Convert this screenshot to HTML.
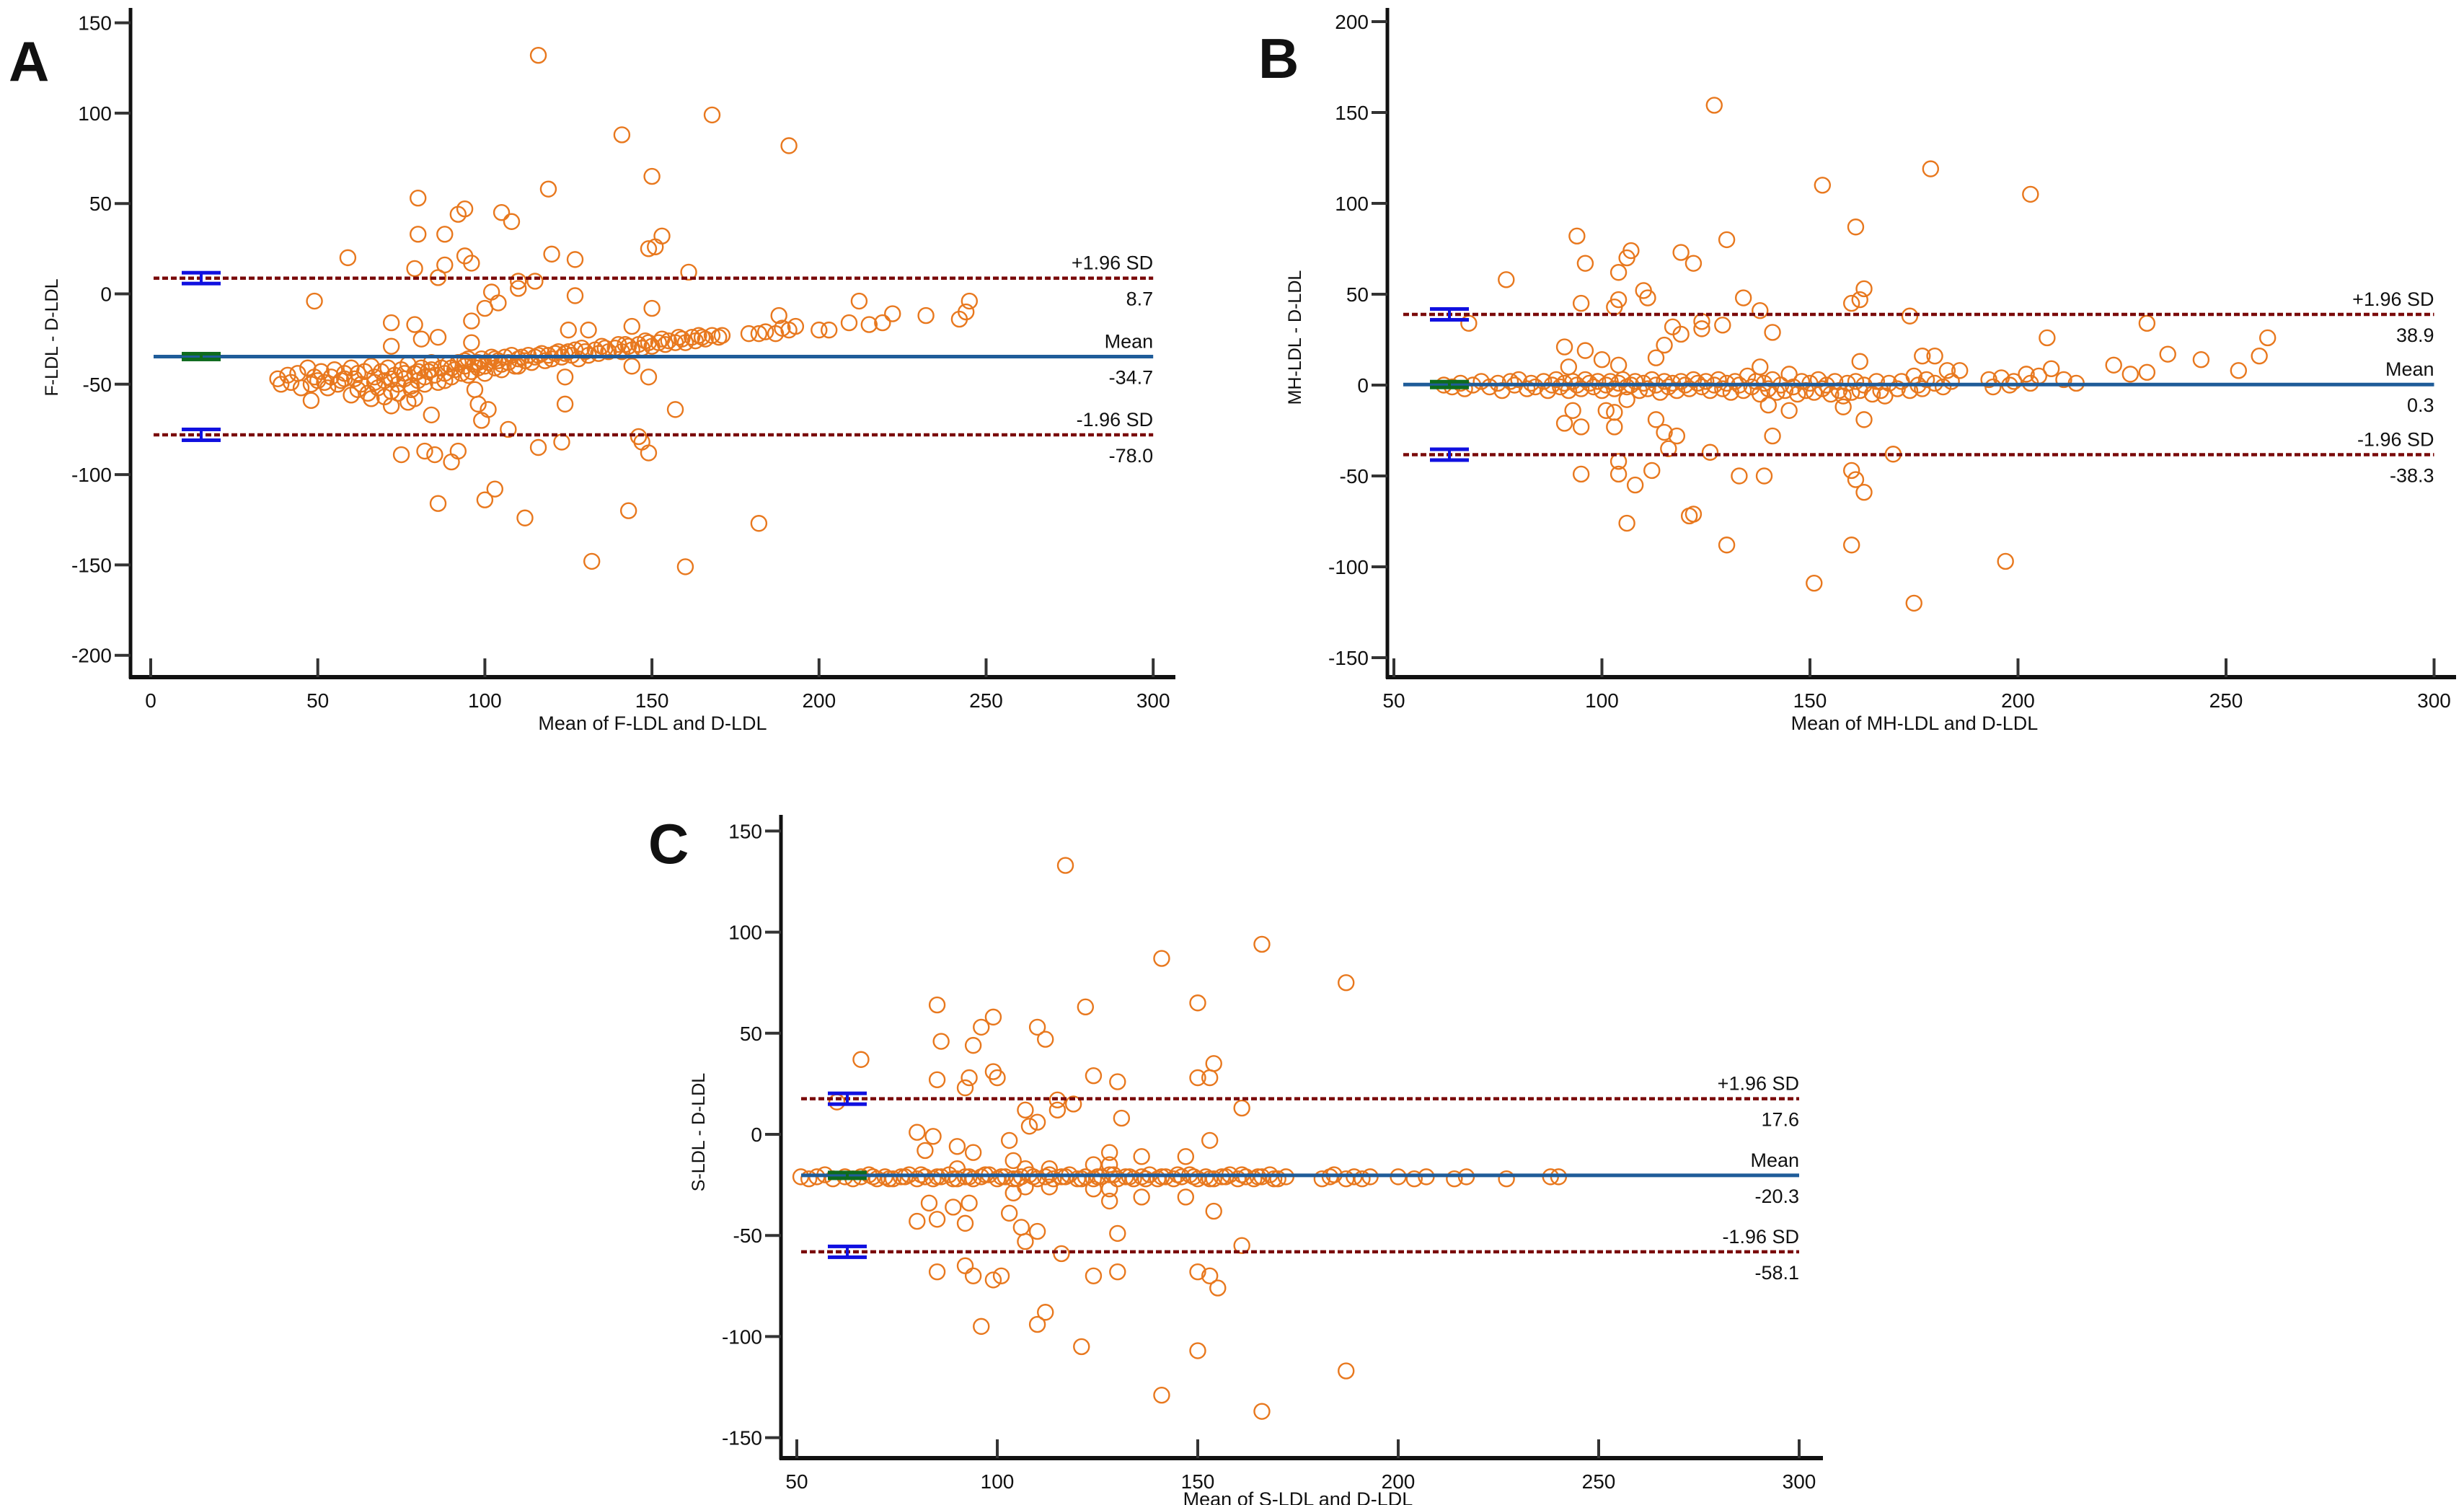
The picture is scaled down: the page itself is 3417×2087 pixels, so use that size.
<!DOCTYPE html>
<html><head><meta charset="utf-8"><style>
html,body{margin:0;padding:0;background:#fff}
svg{display:block}
text{font-family:"Liberation Sans Narrow","Liberation Sans",sans-serif;fill:#111}
</style></head><body>
<svg id="chart" width="3417" height="2087" viewBox="0 0 3417 2087" xmlns="http://www.w3.org/2000/svg"></svg>
<script>
// ---------- DATA ----------
const xTicksA = [0,50,100,150,200,250,300];
const yTicksA = [150,100,50,0,-50,-100,-150,-200];
const xTicksB = [50,100,150,200,250,300];
const yTicksB = [200,150,100,50,0,-50,-100,-150];
const xTicksC = [50,100,150,200,250,300];
const yTicksC = [150,100,50,0,-50,-100,-150];
const limitsA = [8.7,-34.7,-78.0];
const limitsB = [38.9,0.3,-38.3];
const limitsC = [17.6,-20.3,-58.1];
const pointsA = [[116,132],[168,99],[141,88],[191,82],[150,65],[119,58],[80,53],[94,47],[92,44],[105,45],[108,40],[80,33],[88,33],[153,32],[149,25],[151,26],[59,20],[120,22],[127,19],[94,21],[96,17],[88,16],[79,14],[86,9],[161,12],[110,7],[115,7],[110,3],[102,1],[104,-5],[100,-8],[49,-4],[127,-1],[150,-8],[72,-16],[79,-17],[96,-15],[131,-20],[125,-20],[144,-18],[72,-29],[81,-25],[86,-24],[96,-27],[124,-46],[144,-40],[149,-46],[48,-59],[97,-53],[98,-61],[101,-64],[84,-67],[72,-62],[77,-60],[79,-58],[99,-70],[107,-75],[157,-64],[75,-89],[82,-87],[85,-89],[90,-93],[92,-87],[116,-85],[123,-82],[146,-79],[147,-82],[149,-88],[86,-116],[100,-114],[103,-108],[112,-124],[143,-120],[182,-127],[132,-148],[160,-151],[124,-61],
[179,-22],[182,-22],[184,-21],[187,-22],[189,-19],[191,-20],[193,-18],[188,-12],[200,-20],[203,-20],[209,-16],[212,-4],[215,-17],[219,-16],[222,-11],[232,-12],[242,-14],[244,-10],[245,-4],
[38,-47],[39,-50],[41,-45],[42,-49],[44,-44],[45,-52],[47,-41],[49,-46],[51,-43],[52,-49],[54,-46],[55,-42],[57,-48],[58,-44],[60,-41],[61,-47],[63,-50],[64,-43],[65,-55],[66,-40],[67,-46],[68,-52],[69,-43],[70,-48],[71,-41],[72,-54],[73,-45],[74,-50],[75,-42],[76,-47],[77,-39],[78,-51],[79,-44],[80,-48],[81,-41],[82,-46],[83,-43],[84,-38],[85,-45],[86,-49],[87,-41],[88,-44],[89,-39],[90,-46],[91,-42],[92,-38],[93,-44],[94,-40],[95,-36],[96,-43],[97,-39],[98,-41],[99,-36],[100,-40],[101,-38],[102,-35],[103,-41],[104,-37],[105,-39],[106,-35],[107,-38],[108,-34],[109,-40],[110,-36],[112,-37],[113,-34],[114,-38],[115,-35],[117,-33],[118,-37],[119,-34],[120,-36],[122,-32],[123,-35],[124,-33],[126,-34],[127,-31],[128,-36],[130,-32],[131,-34],[133,-31],[134,-33],[136,-30],[137,-32],[139,-30],[140,-28],[141,-32],[143,-29],[144,-31],[146,-28],[147,-30],[149,-27],[150,-29],[152,-27],[154,-28],[155,-26],[157,-27],[159,-25],[160,-27],[162,-24],[163,-26],[165,-24],[166,-25],[168,-23],[170,-24],[171,-23],
[60,-56],[62,-53],[66,-58],[70,-57],[74,-55],[56,-50],[50,-48],[53,-52],[48,-50],[78,-53],[82,-50],[88,-48],[95,-45],[100,-44],[105,-42],[110,-40],
[58,-47],[62,-44],[67,-49],[72,-47],[76,-44],[80,-43],[84,-42],[90,-41],[94,-37],[98,-38],[103,-36],[111,-35],[116,-34],[121,-33],[125,-32],[129,-30],[135,-29],[142,-28],[148,-26],[153,-25],[158,-24],[164,-23]];
const pointsB = [[127,154],[179,119],[153,110],[203,105],[161,87],[94,82],[130,80],[107,74],[119,73],[106,70],[122,67],[96,67],[104,62],[77,58],[163,53],[110,52],[111,48],[134,48],[162,47],[104,47],[95,45],[160,45],[103,43],[138,41],[174,38],[68,34],[124,35],[129,33],[117,32],[124,31],[119,28],[141,29],[231,34],[207,26],[260,26],[115,22],[91,21],[96,19],[236,17],[258,16],[162,13],[113,15],[177,16],[180,16],[244,14],[100,14],[104,11],[92,10],[138,10],[223,11],[208,9],[227,6],[231,7],[253,8],[186,8],[183,8],[93,-14],[101,-14],[103,-15],[113,-19],[106,-8],[158,-12],[140,-11],[145,-14],[163,-19],[91,-21],[95,-23],[103,-23],[115,-26],[118,-28],[141,-28],[116,-35],[126,-37],[170,-38],[104,-42],[95,-49],[104,-49],[112,-47],[108,-55],[133,-50],[139,-50],[160,-47],[161,-52],[163,-59],[122,-71],[121,-72],[106,-76],[130,-88],[160,-88],[197,-97],[151,-109],[175,-120],
[62,0],[64,-1],[66,1],[67,-2],[69,0],[71,2],[73,-1],[75,1],[76,-3],[78,2],[79,0],[80,3],[82,-2],[83,1],[84,-1],[86,2],[87,-3],[88,0],[89,3],[90,-1],[91,1],[92,-3],[93,2],[94,0],[95,-2],[96,3],[97,1],[98,-1],[99,2],[100,-3],[101,0],[102,2],[103,-2],[104,1],[105,3],[106,-1],[107,0],[108,2],[109,-3],[110,1],[111,-2],[112,3],[113,0],[114,-4],[115,2],[116,-1],[117,1],[118,-3],[119,2],[120,0],[121,-2],[122,3],[123,1],[124,-1],[125,2],[126,-3],[127,0],[128,3],[129,-2],[130,1],[131,-4],[132,2],[133,0],[134,-3],[135,5],[136,-1],[137,2],[138,-5],[139,1],[140,-2],[141,3],[142,-4],[143,0],[144,-3],[145,6],[146,-1],[147,-5],[148,2],[149,-3],[150,1],[151,-4],[152,3],[153,-2],[154,0],[155,-5],[156,2],[157,-3],[158,-6],[159,1],[160,-4],[161,2],[162,-3],[163,0],[165,-5],[166,2],[167,-3],[168,-6],[169,1],[171,-2],[172,2],[174,-3],[175,5],[176,0],[177,-2],[178,3],[180,1],[182,-1],[184,2],[193,3],[194,-1],[196,4],[198,0],[199,2],[202,6],[203,1],[205,5],[211,3],[214,1]];
const pointsC = [[117,133],[166,94],[141,87],[187,75],[85,64],[150,65],[122,63],[99,58],[110,53],[96,53],[86,46],[94,44],[112,47],[66,37],[154,35],[99,31],[100,28],[85,27],[93,28],[92,23],[124,29],[130,26],[150,28],[153,28],[115,17],[119,15],[60,16],[115,12],[107,12],[161,13],[108,4],[110,6],[131,8],[80,1],[84,-1],[90,-6],[103,-3],[153,-3],[82,-8],[94,-9],[128,-9],[136,-11],[147,-11],[104,-13],[90,-17],[107,-17],[113,-17],[124,-15],[128,-15],[104,-29],[107,-26],[113,-26],[124,-27],[128,-27],[128,-33],[136,-31],[147,-31],[83,-34],[89,-36],[93,-34],[103,-39],[80,-43],[85,-42],[92,-44],[154,-38],[106,-46],[110,-48],[130,-49],[107,-53],[116,-59],[161,-55],[92,-65],[85,-68],[94,-70],[99,-72],[101,-70],[124,-70],[130,-68],[150,-68],[153,-70],[155,-76],[112,-88],[96,-95],[110,-94],[121,-105],[150,-107],[187,-117],[141,-129],[166,-137],
[51,-21],[53,-22],[55,-21],[57,-20],[59,-22],[62,-21],[64,-22],[66,-21],[68,-20],[70,-22],[72,-21],[74,-22],[76,-21],[78,-20],[80,-22],[82,-21],[84,-22],[86,-21],[88,-20],[90,-22],[92,-21],[94,-22],[96,-21],[98,-20],[100,-22],[102,-21],[104,-22],[106,-21],[108,-20],[110,-22],[112,-21],[114,-22],[116,-21],[118,-20],[120,-22],[122,-21],[124,-22],[126,-21],[128,-20],[130,-22],[132,-21],[134,-22],[136,-21],[138,-20],[140,-22],[142,-21],[144,-22],[146,-21],[148,-20],[150,-22],[152,-21],[154,-22],[156,-21],[158,-20],[160,-22],[162,-21],[164,-22],[166,-21],[168,-20],[170,-22],[172,-21],[181,-22],[183,-21],[184,-20],[187,-22],[189,-21],[191,-22],[193,-21],[200,-21],[204,-22],[207,-21],[214,-22],[217,-21],[227,-22],[238,-21],[240,-21],
[69,-21],[73,-22],[77,-21],[81,-20],[85,-21],[89,-22],[93,-21],[97,-20],[101,-21],[105,-22],[109,-21],[113,-20],[117,-21],[121,-22],[125,-21],[129,-20],[133,-21],[137,-22],[141,-21],[145,-20],[149,-21],[153,-22],[157,-21],[161,-20],[165,-21],[169,-22]];

// ---------- RENDER ----------
const NS = "http://www.w3.org/2000/svg";
const svg = document.getElementById('chart');
function mk(tag, attrs, parent){const e=document.createElementNS(NS,tag);for(const k in attrs)e.setAttribute(k,attrs[k]);(parent||svg).appendChild(e);return e;}

const panels = [
 {id:'a', letter:'A', lx:12, ly:112, ax:181, axTop:11, axBot:939, axRight:1630, x0v:0, x0:209, xs:231.7/50, y0:407.5, ys:125.3/50,
  xt:xTicksA, yt:yTicksA, lim:limitsA, pts:pointsA, lineX1:213, eb:[252,306], ytitle:'F-LDL - D-LDL', xtitle:'Mean of F-LDL and D-LDL', ytx:80, yty:468, xtx:905, xty:1012},
 {id:'b', letter:'B', lx:1745, ly:108, ax:1924, axTop:11, axBot:939, axRight:3406, x0v:50, x0:1933, xs:288.5/50, y0:534, ys:126/50,
  xt:xTicksB, yt:yTicksB, lim:limitsB, pts:pointsB, lineX1:1946, eb:[1983,2037], ytitle:'MH-LDL - D-LDL', xtitle:'Mean of MH-LDL and D-LDL', ytx:1804, yty:468, xtx:2655, xty:1012},
 {id:'c', letter:'C', lx:899, ly:1197, ax:1083, axTop:1130, axBot:2022, axRight:2528, x0v:50, x0:1105, xs:278/50, y0:1573, ys:140.2/50,
  xt:xTicksC, yt:yTicksC, lim:limitsC, pts:pointsC, lineX1:1111, eb:[1148,1202], ytitle:'S-LDL - D-LDL', xtitle:'Mean of S-LDL and D-LDL', ytx:977, yty:1570, xtx:1800, xty:2088}
];

panels.forEach(p=>{
  const X = v => p.x0 + (v - p.x0v)*p.xs;
  const Y = v => p.y0 - v*p.ys;
  const g = mk('g',{});
  
  
  const xEnd = X(300);

  const L = mk('text',{x:p.lx,y:p.ly,'font-size':78,'font-weight':'bold','font-family':'"Liberation Sans",sans-serif'},g);
  L.textContent=p.letter;
  
  

  const ya = mk('line',{x1:p.ax,y1:p.axTop,x2:p.ax,y2:p.axBot+2,stroke:'#111','stroke-width':5},g);
  
  
  const xa = mk('line',{x1:p.ax-2,y1:p.axBot,x2:p.axRight,y2:p.axBot,stroke:'#111','stroke-width':6},g);
  
  

  p.yt.forEach(v=>{
    const t = mk('line',{x1:p.ax-22,y1:Y(v),x2:p.ax,y2:Y(v),stroke:'#333','stroke-width':4},g);
    
    
    const l = mk('text',{x:p.ax-26,y:Y(v)+10,'font-size':28,'text-anchor':'end'},g);
    l.textContent=v;
    
    
  });
  p.xt.forEach(v=>{
    const t = mk('line',{x1:X(v),y1:p.axBot-26,x2:X(v),y2:p.axBot,stroke:'#333','stroke-width':4},g);
    
    
    const l = mk('text',{x:X(v),y:p.axBot+42,'font-size':28,'text-anchor':'middle'},g);
    l.textContent=v;
    
    
  });
  const yt = mk('text',{x:p.ytx,y:p.yty,'font-size':25,'text-anchor':'middle',transform:`rotate(-90 ${p.ytx} ${p.yty})`,'font-family':'"Liberation Sans",sans-serif'},g);
  yt.textContent=p.ytitle;
  
  
  const xt = mk('text',{x:p.xtx,y:p.xty,'font-size':27,'text-anchor':'middle'},g);
  xt.textContent=p.xtitle;
  
  

  p.pts.forEach(d=>{
    const c = mk('circle',{cx:X(d[0]),cy:Y(d[1]),r:10.5,fill:'none',stroke:'#E8781E','stroke-width':2.4},g);
    
    
  });

  const names=['upper-limit','mean','lower-limit'];
  const tops=['+1.96 SD','Mean','-1.96 SD'];
  p.lim.forEach((v,i)=>{
    const yy=Y(v);
    const isMean = i===1;
    const ln = mk('line',{x1:p.lineX1,y1:yy,x2:xEnd,y2:yy,stroke:isMean?'#1F5C99':'#7A0A0A','stroke-width':isMean?5:4.5,'stroke-dasharray':isMean?'none':'8 4'},g);
    
    
    const eb = mk('g',{},g);
    
    
    const col = isMean?'#0E6B1E':'#1010E0';
    const h = isMean?4:7.5;
    const cx=(p.eb[0]+p.eb[1])/2;
    mk('rect',{x:p.eb[0],y:yy-h-2.5,width:p.eb[1]-p.eb[0],height:5,fill:col},eb);
    mk('rect',{x:p.eb[0],y:yy+h-2.5,width:p.eb[1]-p.eb[0],height:5,fill:col},eb);
    mk('rect',{x:cx-2,y:yy-h,width:4,height:2*h,fill:col},eb);
    const t1 = mk('text',{x:xEnd,y:yy-12,'font-size':27,'text-anchor':'end'},g);
    t1.textContent=tops[i];
    
    
    const t2 = mk('text',{x:xEnd,y:yy+38,'font-size':27,'text-anchor':'end'},g);
    t2.textContent=v.toFixed(1);
    
    
  });
});
</script>
</body></html>
